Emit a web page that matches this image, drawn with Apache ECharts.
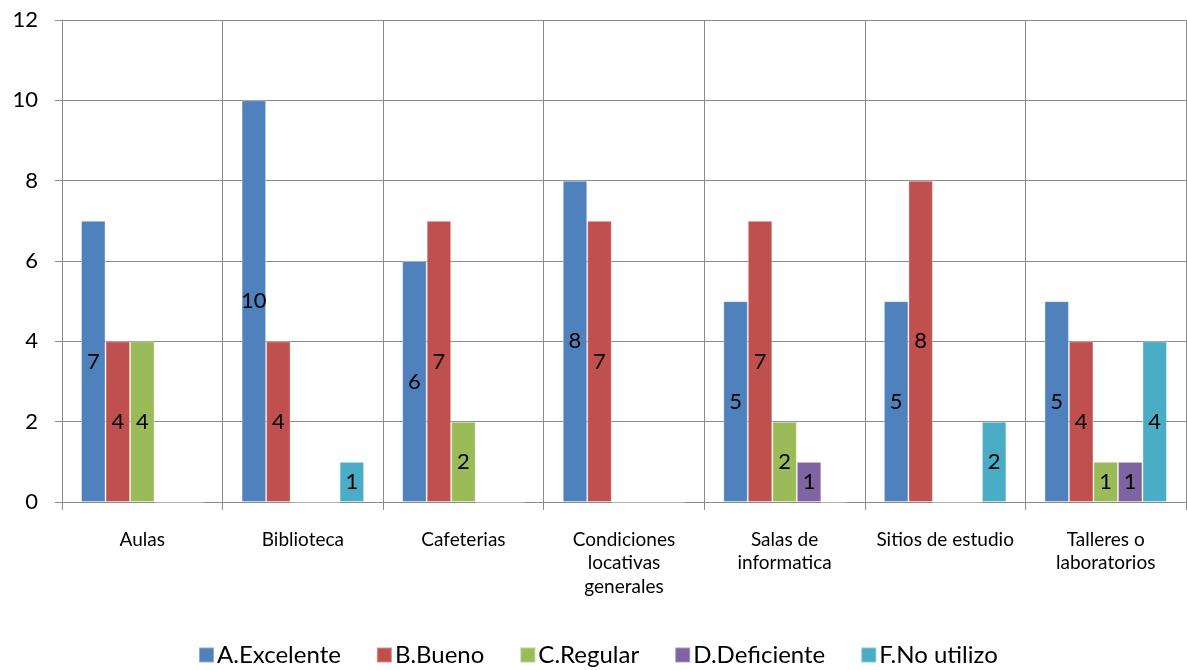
<!DOCTYPE html>
<html>
<head>
<meta charset="utf-8">
<script src="https://cdn.jsdelivr.net/npm/echarts@6/dist/echarts.min.js"></script>
<style>html,body{margin:0;padding:0;background:#fff}#c{width:1187px;height:670px}</style>
</head>
<body>
<div id="c"></div>
<script>
const categories = ['Aulas', 'Biblioteca', 'Cafeterias', 'Condiciones\nlocativas\ngenerales', 'Salas de\ninformatica', 'Sitios de estudio', 'Talleres o\nlaboratorios'];
const seriesNames = ['A.Excelente', 'B.Bueno', 'C.Regular', 'D.Deficiente', 'F.No utilizo'];
const excelente = [7, 10, 6, 8, 5, 5, 5];
const bueno = [4, 4, 7, 7, 7, 8, 4];
const regular = [4, 0, 2, 0, 2, 0, 1];
const deficiente = [0, 0, 0, 0, 1, 0, 1];
const noUtilizo = [0, 1, 0, 0, 0, 2, 4];
const yTicks = [0, 2, 4, 6, 8, 10, 12];

const colors = ['#4F81BD', '#C0504D', '#9BBB59', '#8064A2', '#4BACC6'];
const values = [excelente, bueno, regular, deficiente, noUtilizo];
const font = 'Lato, "Liberation Sans", sans-serif';
const gridColor = '#8a8a8a';

const chart = echarts.init(document.getElementById('c'));
chart.setOption({
  animation: false,
  textStyle: { fontFamily: font },
  grid: { left: 62, right: 1, top: 20, bottom: 168, containLabel: false },
  legend: {
    top: 642, left: 198, padding: 0,
    icon: 'rect', itemWidth: 15, itemHeight: 15, itemGap: 35,
    textStyle: { fontSize: 24, lineHeight: 26, color: '#000', fontFamily: font, padding: [0, 0, 0, -2] },
    data: seriesNames
  },
  xAxis: {
    type: 'category', data: categories,
    axisLine: { lineStyle: { color: gridColor, width: 1 } },
    axisTick: { show: true, length: 8, interval: 0, lineStyle: { color: gridColor } },
    splitLine: { show: true, interval: 0, lineStyle: { color: gridColor, width: 1 } },
    axisLabel: { interval: 0, margin: 26, fontSize: 19, lineHeight: 23.5, color: '#000', fontFamily: font }
  },
  yAxis: {
    type: 'value', min: yTicks[0], max: yTicks[yTicks.length - 1], interval: 2,
    axisLine: { show: true, lineStyle: { color: gridColor } },
    axisTick: { show: true, length: 7, lineStyle: { color: gridColor } },
    splitLine: { show: true, lineStyle: { color: gridColor, width: 1 } },
    axisLabel: { fontSize: 22, color: '#000', margin: 24, fontFamily: font }
  },
  series: seriesNames.map((name, i) => ({
    name: name, type: 'bar', data: values[i],
    barGap: '0%', barCategoryGap: '23.7%',
    itemStyle: { color: colors[i], borderColor: 'rgba(255,255,255,0.35)', borderWidth: 1 },
    label: {
      show: true, position: 'inside', fontSize: 22, color: '#000', fontFamily: font,
      formatter: p => (p.value === 0 ? '' : String(p.value))
    }
  }))
});
</script>
</body>
</html>
